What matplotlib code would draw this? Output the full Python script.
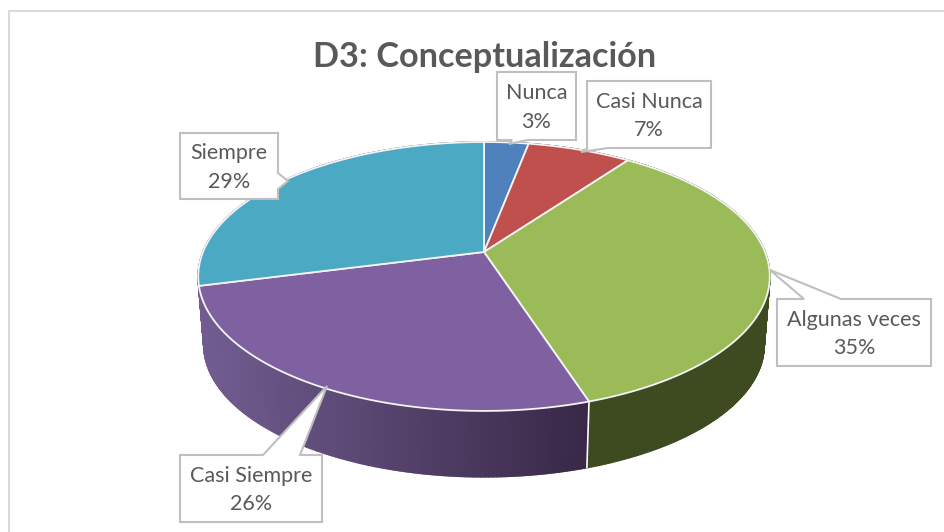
import numpy as np
import matplotlib
matplotlib.use('Agg')
import matplotlib.pyplot as plt
from matplotlib.colors import to_rgb

plt.rcParams['font.family'] = ['Lato', 'DejaVu Sans']

title = 'D3: Conceptualización'
categorias = ['Nunca', 'Casi Nunca', 'Algunas veces', 'Casi Siempre', 'Siempre']
valores = [3, 7, 35, 26, 29]
cores = ['#4F81BD', '#C0504D', '#9BBB59', '#7F60A0', '#4BA9C4']
# lateral: cor a direita, cor a esquerda
cores_lado = [('#2F4D71', '#2F4D71'), ('#73302E', '#73302E'), ('#3E4A20', '#404C22'),
              ('#382846', '#715C90'), ('#715C90', '#715C90')]

# caixas dos rotulos: x0, y0, x1, y1 em pixels da imagem
caixas = [(497, 72, 576, 140), (587, 81, 711, 148), (777, 299, 931, 366),
          (180, 455, 322, 522), (180, 133, 278, 199)]
# cauda: lado da caixa, duas posicoes nesse lado, ponta
caudas = [('b', 512, 528, (509, 144)), ('b', 588, 608, (581, 152)),
          ('t', 804, 841, (770, 270)), ('t', 263, 300, (327, 386)),
          ('r', 173, 189, (288, 181))]

cx, cy = 484, 252
rx, ry, k = 281, 130, 0.182
esc_base, desl_base = 0.98, 69


def topo(a):
    # perspectiva do disco: a medido a partir do topo, sentido horario
    u, v = np.sin(a), np.cos(a)
    w = 1 + k * v
    return cx + rx * u / w, cy - ry * v / w


def base(a):
    x, y = topo(a)
    return cx + esc_base * (x - cx), cy + desl_base + esc_base * (y - cy)


def callout(caixa, cauda):
    x0, y0, x1, y1 = caixa
    lado, p0, p1, ponta = cauda
    if lado == 't':
        return [(x0, y0), (p0, y0), ponta, (p1, y0), (x1, y0), (x1, y1), (x0, y1)]
    if lado == 'b':
        return [(x0, y0), (x1, y0), (x1, y1), (p1, y1), ponta, (p0, y1), (x0, y1)]
    return [(x0, y0), (x1, y0), (x1, p0), ponta, (x1, p1), (x1, y1), (x0, y1)]


fig = plt.figure(figsize=(9.45, 5.32), dpi=100)
ax = fig.add_axes([0, 0, 1, 1])
ax.set_xlim(0, 945)
ax.set_ylim(532, 0)
ax.axis('off')

ax.plot([9, 9, 945], [532, 11, 11], color='#D9D9D9', lw=1.5)

angulos = 2 * np.pi * np.cumsum([0] + valores) / sum(valores)

# lateral do disco, em tiras finas para fazer o gradiente
for i in range(len(valores)):
    a = np.linspace(angulos[i], angulos[i + 1], max(2, valores[i] * 8))
    xt, yt = topo(a)
    xb, yb = base(a)
    c_dir = np.array(to_rgb(cores_lado[i][0]))
    c_esq = np.array(to_rgb(cores_lado[i][1]))
    for j in range(len(a) - 1):
        t = np.clip((xt[j] - 207) / (590 - 207), 0, 1)
        c = c_esq + (c_dir - c_esq) * t
        ax.fill([xt[j], xt[j + 1], xb[j + 1], xb[j]],
                [yt[j], yt[j + 1], yb[j + 1], yb[j]],
                facecolor=c, edgecolor=c, lw=1.2, zorder=2)

# divisao branca visivel na lateral
xt, yt = topo(angulos[3])
xb, yb = base(angulos[3])
ax.plot([xt, xb], [yt, yb], color='white', lw=1.2, zorder=3)

# face de cima
for i in range(len(valores)):
    a = np.linspace(angulos[i], angulos[i + 1], max(2, valores[i] * 8))
    xt, yt = topo(a)
    ax.fill(np.r_[cx, xt], np.r_[cy, yt], facecolor=cores[i], edgecolor='#F4F4F4',
            lw=1.3, joinstyle='round', zorder=4)

ax.text(485, 57, title, fontsize=24.7, fontweight='bold', color='#595959',
        ha='center', va='center', zorder=6)

for nome, valor, caixa, cauda in zip(categorias, valores, caixas, caudas):
    ax.fill(*zip(*callout(caixa, cauda)), facecolor='white', edgecolor='#BFBFBF',
            lw=1.5, joinstyle='miter', zorder=7)
    xm = (caixa[0] + caixa[2]) / 2
    ym = (caixa[1] + caixa[3]) / 2 + 1.5
    ax.text(xm, ym, f'{nome}\n{valor}%', fontsize=15.5, color='#595959', ha='center',
            va='center', linespacing=1.52, zorder=8)

fig.savefig('out.png', dpi=100)
